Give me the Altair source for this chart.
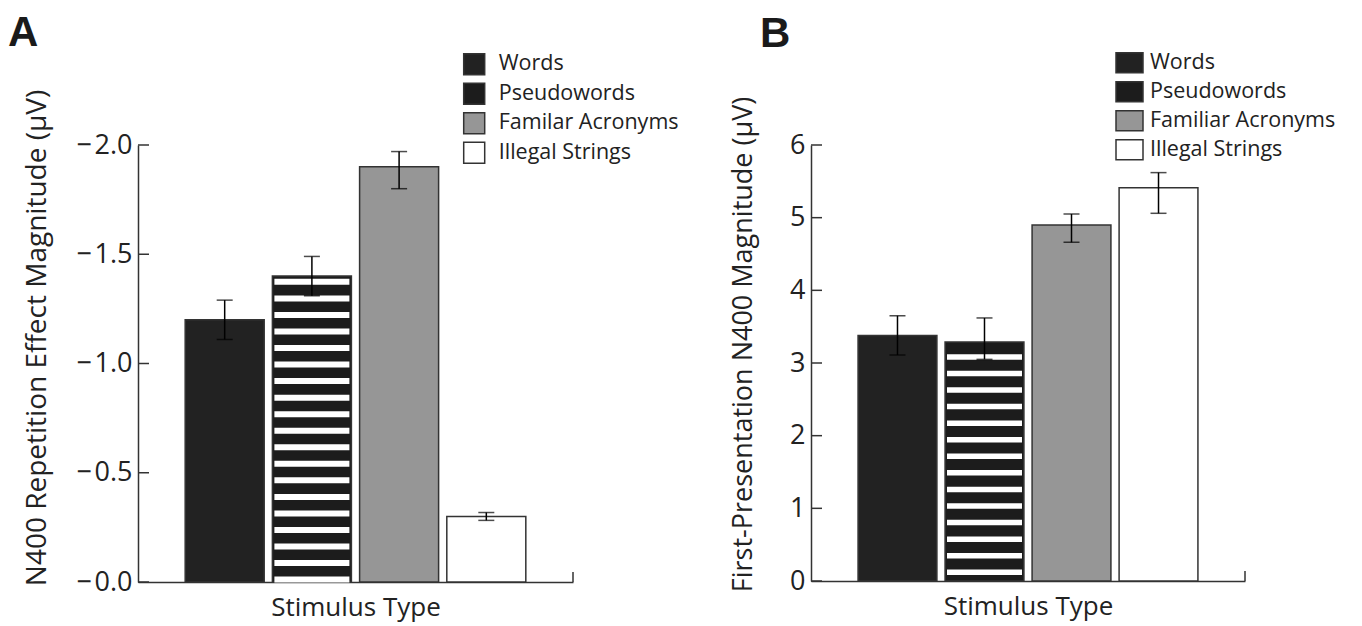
import altair as alt

# ---------------- data ----------------
categories = ["Words", "Pseudowords", "Familiar Acronyms", "Illegal Strings"]
legend_a = ["Words", "Pseudowords", "Familar Acronyms", "Illegal Strings"]
legend_b = ["Words", "Pseudowords", "Familiar Acronyms", "Illegal Strings"]
fills = ["#222222", "#1c1c1c", "#969696", "#ffffff"]

a_vals = [1.20, 1.40, 1.90, 0.30]
a_hi = [1.29, 1.49, 1.97, 0.318]
a_lo = [1.11, 1.31, 1.80, 0.282]
a_ticks = [0.0, 0.5, 1.0, 1.5, 2.0]

b_vals = [3.38, 3.29, 4.90, 5.41]
b_hi = [3.65, 3.62, 5.05, 5.62]
b_lo = [3.11, 3.05, 4.66, 5.06]
b_ticks = [0, 1, 2, 3, 4, 5, 6]

FONT = "Open Sans"
INK = "#222222"
EDGE = "#333333"


def panel(vals, hi, lo, labels, ticks, domain, width, height, ytitle, ytitle_size,
          label_expr, letter, letter_dx, letter_dy, stripe_start, stripe_step,
          stripe_thick, legend_x, legend_y, symbol, symbol_size, row_pad, label_off,
          title_x, title_y):
    rows = [
        {"cat": c, "label": l, "val": v, "hi": h, "lo": o}
        for c, l, v, h, o in zip(categories, labels, vals, hi, lo)
    ]
    base = alt.Chart(alt.Data(values=rows))

    xenc = alt.X(
        "cat:N", sort=categories,
        scale=alt.Scale(paddingInner=0.094, paddingOuter=0.541),
        axis=alt.Axis(labels=False, ticks=False, domainColor=EDGE, domainWidth=1.5,
                      title="Stimulus Type", titleFont=FONT, titleFontSize=26,
                      titleFontWeight="normal", titleColor=INK,
                      titleBaseline="alphabetic", titleY=33),
    )
    yaxis = alt.Axis(values=ticks, ticks=False, tickSize=0, grid=False,
                     labelPadding=6, labelFont=FONT, labelFontSize=27, labelColor=INK,
                     domainColor=EDGE, domainWidth=1.5, labelExpr=label_expr,
                     title=ytitle, titleFont=FONT, titleFontSize=ytitle_size,
                     titleFontWeight="normal", titleColor=INK, titleAngle=270,
                     titleAlign="center", titleBaseline="bottom",
                     titleX=title_x, titleY=title_y)
    yscale = alt.Scale(domain=domain, nice=False, zero=True)

    bars = base.mark_bar(stroke=EDGE, strokeWidth=1.5, opacity=1).encode(
        x=xenc,
        y=alt.Y("val:Q", scale=yscale, axis=yaxis),
        color=alt.Color(
            "label:N",
            scale=alt.Scale(domain=labels, range=fills),
            sort=labels,
            legend=alt.Legend(orient="none", legendX=legend_x, legendY=legend_y,
                              title=None, symbolType=symbol, symbolSize=symbol_size,
                              symbolStrokeColor=EDGE, symbolStrokeWidth=1.5,
                              symbolOpacity=1, labelFont=FONT, labelFontSize=21.5,
                              labelColor=INK, labelOffset=label_off,
                              rowPadding=row_pad, padding=0, labelLimit=0),
        ),
    )

    pseudo_val = vals[1]
    stripes = alt.Chart(alt.sequence(0, 40, 1, as_="i")).transform_calculate(
        cat="'Pseudowords'", s=f"{stripe_start} + datum.i * {stripe_step}"
    ).transform_filter(
        f"datum.s < {pseudo_val} - {stripe_step} * 0.3"
    ).mark_tick(color="white", thickness=stripe_thick, size=75, opacity=1).encode(
        x=alt.X("cat:N", sort=categories),
        y=alt.Y("s:Q"),
    )

    err = base.mark_rule(color="black", strokeWidth=1.5).encode(
        x=alt.X("cat:N", sort=categories), y="lo:Q", y2="hi:Q"
    )
    cap_hi = base.mark_tick(color="black", thickness=1.5, size=16).encode(
        x=alt.X("cat:N", sort=categories), y="hi:Q"
    )
    cap_lo = base.mark_tick(color="black", thickness=1.5, size=16).encode(
        x=alt.X("cat:N", sort=categories), y="lo:Q"
    )

    # inward y ticks
    yticks = alt.Chart(alt.Data(values=[{"t": t} for t in ticks])).mark_rule(
        color=EDGE, strokeWidth=1.5
    ).encode(y="t:Q", x=alt.value(0), x2=alt.value(11))

    end_tick = alt.Chart(alt.Data(values=[{"k": 1}])).mark_rule(
        color=EDGE, strokeWidth=1.5
    ).encode(x=alt.value(width), y=alt.value(height), y2=alt.value(height - 10))

    return alt.layer(bars, stripes, err, cap_hi, cap_lo, yticks, end_tick).properties(
        width=width, height=height,
        title=alt.TitleParams(letter, anchor="start", frame="group", dx=letter_dx,
                              dy=letter_dy, fontSize=42, fontWeight="bold",
                              font="Liberation Sans", color="#1a1a1a"),
    )


chart_a = panel(a_vals, a_hi, a_lo, legend_a, a_ticks, [0, 2], 435, 437,
                "N400 Repetition Effect Magnitude (μV)", 28,
                "'\u2212\u200a' + format(datum.value, '.1f')",
                "A", -130, 6, 0.011, 0.0757, 6,
                324.7, -92.3, "square", 441, 2.5, 13, -87, 192.5)

chart_b = panel(b_vals, b_hi, b_lo, legend_b, b_ticks, [0, 6], 434, 436,
                "First-Presentation N400 Magnitude (μV)", 27,
                "format(datum.value, 'd')",
                "B", -51, 12, 0.12, 0.228, 5.5,
                304, -96.8, "M-1,-0.74H1V0.74H-1Z", 729, 1, 6, -54, 199)

chart = alt.hconcat(chart_a, chart_b, spacing=238, bounds="flush").resolve_scale(
    x="independent", y="independent", color="independent"
).resolve_legend(color="independent").properties(
    padding={"left": 0, "top": 3, "right": 0, "bottom": 8}, background="white"
).configure_view(stroke=None)

chart.save("out.html", embed_options={"renderer": "svg", "actions": False})
